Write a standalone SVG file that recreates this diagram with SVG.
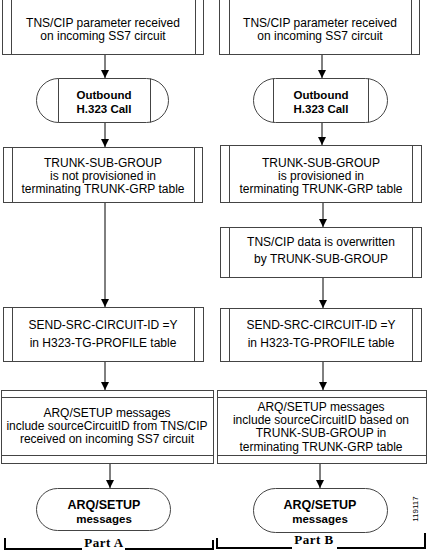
<svg xmlns="http://www.w3.org/2000/svg" width="428" height="552" viewBox="0 0 428 552">
<defs>
<style>
.box{fill:#fff;stroke:#444;stroke-width:1}
.ln{stroke:#444;stroke-width:1;fill:none}
.t{font-family:"Liberation Sans",Arial,sans-serif;font-size:12px;fill:#000;text-anchor:middle}
.b{font-family:"Liberation Sans",Arial,sans-serif;font-size:11.5px;font-weight:bold;fill:#000;text-anchor:middle}
.b2{font-family:"Liberation Sans",Arial,sans-serif;font-size:12.5px;font-weight:bold;fill:#000;text-anchor:middle}
.c{stroke:#000;stroke-width:1;fill:none}
.br{stroke:#000;stroke-width:2;fill:none}
.p{font-family:"Liberation Serif","Times New Roman",serif;font-size:13px;font-weight:bold;fill:#000;text-anchor:middle;letter-spacing:0.5px}
</style>
<marker id="ah" viewBox="0 0 8 10" refX="8" refY="5" markerWidth="8" markerHeight="10" markerUnits="userSpaceOnUse" orient="auto">
<path d="M0,1 L8,5 L0,9 Z" fill="#000"/>
</marker>
</defs>
<rect width="428" height="552" fill="#fff"/>

<g id="connectors">
<line class="c" x1="105" y1="54" x2="105" y2="78" marker-end="url(#ah)"/>
<line class="c" x1="105" y1="122" x2="105" y2="147" marker-end="url(#ah)"/>
<line class="c" x1="105" y1="202" x2="105" y2="307" marker-end="url(#ah)"/>
<line class="c" x1="105" y1="361" x2="105" y2="390" marker-end="url(#ah)"/>
<line class="c" x1="110" y1="463" x2="110" y2="488" marker-end="url(#ah)"/>
<line class="c" x1="322" y1="54" x2="322" y2="78" marker-end="url(#ah)"/>
<line class="c" x1="322" y1="122" x2="322" y2="145" marker-end="url(#ah)"/>
<line class="c" x1="323" y1="202" x2="323" y2="227" marker-end="url(#ah)"/>
<line class="c" x1="323" y1="277" x2="323" y2="308" marker-end="url(#ah)"/>
<line class="c" x1="323" y1="361" x2="323" y2="390" marker-end="url(#ah)"/>
<line class="c" x1="320" y1="463" x2="320" y2="488" marker-end="url(#ah)"/>
</g>

<g id="L1">
<rect class="box" x="2.5" y="-1" width="201" height="55.5"/>
<line class="ln" x1="11.5" y1="0" x2="11.5" y2="54"/>
<line class="ln" x1="195.5" y1="0" x2="195.5" y2="54"/>
<text class="t" x="103" y="27">TNS/CIP parameter received</text>
<text class="t" x="103" y="40">on incoming SS7 circuit</text>
</g>

<g id="L2">
<rect class="box" x="36.5" y="78.5" width="132" height="44" rx="22" ry="22"/>
<line class="ln" x1="58.5" y1="78.5" x2="58.5" y2="122.5"/>
<line class="ln" x1="150.5" y1="78.5" x2="150.5" y2="122.5"/>
<text class="b" x="104" y="99">Outbound</text>
<text class="b" x="104" y="113">H.323 Call</text>
</g>

<g id="L3">
<rect class="box" x="3.5" y="147.5" width="199" height="55"/>
<line class="ln" x1="12.5" y1="147.5" x2="12.5" y2="202.5"/>
<line class="ln" x1="194.5" y1="147.5" x2="194.5" y2="202.5"/>
<text class="t" x="103" y="167">TRUNK-SUB-GROUP</text>
<text class="t" x="103" y="180">is not provisioned in</text>
<text class="t" x="103" y="193">terminating TRUNK-GRP table</text>
</g>

<g id="L4">
<rect class="box" x="3.5" y="307.5" width="200" height="54"/>
<line class="ln" x1="12.5" y1="307.5" x2="12.5" y2="361.5"/>
<line class="ln" x1="194.5" y1="307.5" x2="194.5" y2="361.5"/>
<text class="t" x="103" y="329">SEND-SRC-CIRCUIT-ID =Y</text>
<text class="t" x="103" y="347">in H323-TG-PROFILE table</text>
</g>

<g id="L5">
<rect class="box" x="1.5" y="390.5" width="212" height="73"/>
<line class="ln" x1="1.5" y1="397.5" x2="213.5" y2="397.5"/>
<line class="ln" x1="1.5" y1="455.5" x2="213.5" y2="455.5"/>
<text class="t" x="107" y="417">ARQ/SETUP messages</text>
<text class="t" x="107" y="430">include sourceCircuitID from TNS/CIP</text>
<text class="t" x="107" y="443">received on incoming SS7 circuit</text>
</g>

<g id="L6">
<rect class="box" x="36.5" y="488.5" width="134" height="42" rx="21" ry="21"/>
<text class="b2" x="104" y="509">ARQ/SETUP</text>
<text class="b" x="104" y="523">messages</text>
</g>

<g id="R1">
<rect class="box" x="219.5" y="-1" width="200" height="55.5"/>
<line class="ln" x1="229.5" y1="0" x2="229.5" y2="54"/>
<line class="ln" x1="411.5" y1="0" x2="411.5" y2="54"/>
<text class="t" x="320" y="27">TNS/CIP parameter received</text>
<text class="t" x="320" y="40">on incoming SS7 circuit</text>
</g>

<g id="R2">
<rect class="box" x="253.5" y="78.5" width="134" height="44" rx="22" ry="22"/>
<line class="ln" x1="273.5" y1="78.5" x2="273.5" y2="122.5"/>
<line class="ln" x1="368.5" y1="78.5" x2="368.5" y2="122.5"/>
<text class="b" x="321" y="99">Outbound</text>
<text class="b" x="321" y="113">H.323 Call</text>
</g>

<g id="R3">
<rect class="box" x="220.5" y="145.5" width="201" height="57"/>
<line class="ln" x1="229.5" y1="145.5" x2="229.5" y2="202.5"/>
<line class="ln" x1="412.5" y1="145.5" x2="412.5" y2="202.5"/>
<text class="t" x="321" y="167">TRUNK-SUB-GROUP</text>
<text class="t" x="321" y="180">is provisioned in</text>
<text class="t" x="321" y="193">terminating TRUNK-GRP table</text>
</g>

<g id="R4">
<rect class="box" x="220.5" y="227.5" width="201" height="50"/>
<line class="ln" x1="229.5" y1="227.5" x2="229.5" y2="277.5"/>
<line class="ln" x1="412.5" y1="227.5" x2="412.5" y2="277.5"/>
<text class="t" x="321" y="246">TNS/CIP data is overwritten</text>
<text class="t" x="321" y="263">by TRUNK-SUB-GROUP</text>
</g>

<g id="R5">
<rect class="box" x="220.5" y="308.5" width="201" height="53"/>
<line class="ln" x1="229.5" y1="308.5" x2="229.5" y2="361.5"/>
<line class="ln" x1="412.5" y1="308.5" x2="412.5" y2="361.5"/>
<text class="t" x="321" y="329">SEND-SRC-CIRCUIT-ID =Y</text>
<text class="t" x="321" y="347">in H323-TG-PROFILE table</text>
</g>

<g id="R6">
<rect class="box" x="217.5" y="390.5" width="209" height="73"/>
<line class="ln" x1="217.5" y1="397.5" x2="426.5" y2="397.5"/>
<line class="ln" x1="217.5" y1="455.5" x2="426.5" y2="455.5"/>
<text class="t" x="321" y="411">ARQ/SETUP messages</text>
<text class="t" x="321" y="424">include sourceCircuitID based on</text>
<text class="t" x="321" y="437">TRUNK-SUB-GROUP in</text>
<text class="t" x="321" y="451">terminating TRUNK-GRP table</text>
</g>

<g id="R7">
<rect class="box" x="253.5" y="488.5" width="134" height="44" rx="22" ry="22"/>
<text class="b2" x="320" y="509">ARQ/SETUP</text>
<text class="b" x="320" y="523">messages</text>
</g>

<g id="partA">
<path class="br" d="M5,538 V549 H82"/>
<path class="br" d="M125,549 H213 V540"/>
<text class="p" x="104" y="547">Part A</text>
</g>

<g id="partB">
<path class="br" d="M217,538 V548 H292"/>
<path class="br" d="M337,548 H425 V533"/>
<text class="p" x="314" y="544">Part B</text>
</g>

<text x="418" y="509" font-family="Liberation Sans,Arial,sans-serif" font-size="8" fill="#000" text-anchor="middle" transform="rotate(-90 418 509)">119117</text>
</svg>
